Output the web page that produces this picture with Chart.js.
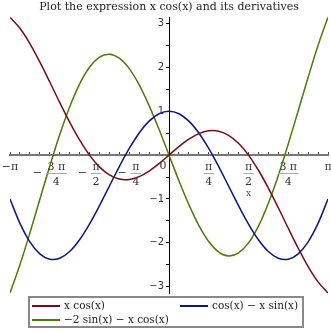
<!DOCTYPE html>
<html>
<head>
<meta charset="utf-8">
<script src="https://cdn.jsdelivr.net/npm/chart.js@4"></script>
<style>
  html, body { margin: 0; padding: 0; background: #fff; }
  #wrap { width: 331px; height: 331px; }
</style>
</head>
<body>
<div id="wrap"><canvas id="chart"></canvas></div>
<script>
// x samples at k*pi/16, k = -16..16
const xValues = [-3.1416, -2.945, -2.749, -2.553, -2.356, -2.160, -1.963, -1.767, -1.571, -1.374, -1.178, -0.982, -0.785, -0.589, -0.393, -0.196, 0,
  0.196, 0.393, 0.589, 0.785, 0.982, 1.178, 1.374, 1.571, 1.767, 1.963, 2.160, 2.356, 2.553, 2.749, 2.945, 3.1416];

const xCos = [3.142, 2.889, 2.540, 2.122, 1.666, 1.200, 0.751, 0.345, 0, -0.268, -0.451, -0.545, -0.555, -0.490, -0.363, -0.193, 0,
  0.193, 0.363, 0.490, 0.555, 0.545, 0.451, 0.268, 0, -0.345, -0.751, -1.200, -1.666, -2.122, -2.540, -2.889, -3.142];

const firstDeriv = [-1, -1.555, -1.976, -2.250, -2.373, -2.351, -2.197, -1.928, -1.571, -1.153, -0.706, -0.261, 0.152, 0.504, 0.774, 0.942, 1,
  0.942, 0.774, 0.504, 0.152, -0.261, -0.706, -1.153, -1.571, -1.928, -2.197, -2.351, -2.373, -2.250, -1.976, -1.555, -1];

const secondDeriv = [-3.142, -2.498, -1.774, -1.011, -0.252, 0.463, 1.096, 1.617, 2, 2.230, 2.299, 2.208, 1.970, 1.601, 1.128, 0.583, 0,
  -0.583, -1.128, -1.601, -1.970, -2.208, -2.299, -2.230, -2, -1.617, -1.096, -0.463, 0.252, 1.011, 1.774, 2.498, 3.142];

const seriesNames = ['x cos(x)', 'cos(x) \u2212 x sin(x)', '\u22122 sin(x) \u2212 x cos(x)'];
const seriesColors = ['#7a0a16', '#0a1680', '#4e7a08'];

// axis ticks and labels
const xTickValues = xValues; // minor ticks every pi/16
const xLabelValues = [-3.1416, -2.356, -1.571, -0.785, 0, 0.785, 1.571, 2.356, 3.1416];
const xLabels = ['\u2212\u03c0', '\u22123 \u03c0/4', '\u2212\u03c0/2', '\u2212\u03c0/4', '0', '\u03c0/4', '\u03c0/2', '3 \u03c0/4', '\u03c0'];
const yTickValues = [-3, -2.5, -2, -1.5, -1, -0.5, 0, 0.5, 1, 1.5, 2, 2.5, 3];
const yLabelValues = [-3, -2, -1, 1, 2, 3];
const yLabels = ['\u22123', '\u22122', '\u22121', '1', '2', '3'];

const serif = '"DejaVu Serif", "Liberation Serif", serif';

const axisLabels = {
  id: 'axisLabels',
  afterDraw(chart) {
    const ctx = chart.ctx;
    const xs = chart.scales.x;
    const ys = chart.scales.y;
    const x0 = xs.getPixelForValue(0);
    const y0 = ys.getPixelForValue(0);
    ctx.save();

    ctx.font = '10px "DejaVu Sans"';
    ctx.fillStyle = '#333';
    ctx.textAlign = 'right';
    ctx.textBaseline = 'middle';
    for (let i = 0; i < yLabelValues.length; i++) {
      ctx.fillText(yLabels[i], x0 - 5, ys.getPixelForValue(yLabelValues[i]));
    }

    ctx.font = '11px ' + serif;
    ctx.textAlign = 'center';
    for (let i = 0; i < xLabelValues.length; i++) {
      const px = xs.getPixelForValue(xLabelValues[i]);
      let s = xLabels[i];
      if (s.includes('/')) {
        let neg = false;
        if (s[0] === '\u2212') { neg = true; s = s.slice(1); }
        const parts = s.split('/');
        const w = Math.max(ctx.measureText(parts[0]).width, ctx.measureText(parts[1]).width) + 3;
        const mw = neg ? ctx.measureText('\u2212').width + 4 : 0;
        const left = px - (mw + w) / 2;
        if (neg) {
          ctx.textAlign = 'left';
          ctx.fillText('\u2212', left, y0 + 18);
          ctx.textAlign = 'center';
        }
        const cx = left + mw + w / 2;
        ctx.fillText(parts[0], cx, y0 + 12);
        ctx.fillText(parts[1], cx, y0 + 27);
        ctx.strokeStyle = '#aaa';
        ctx.lineWidth = 1;
        ctx.beginPath();
        ctx.moveTo(cx - w / 2, Math.round(y0 + 18) + 0.5);
        ctx.lineTo(cx + w / 2, Math.round(y0 + 18) + 0.5);
        ctx.stroke();
      } else if (s === '0') {
        ctx.fillText(s, px - 6, y0 + 11);
      } else {
        ctx.fillText(s, px, y0 + 12);
      }
    }

    // axis title
    ctx.font = '9px ' + serif;
    ctx.fillStyle = '#555';
    ctx.fillText('x', xs.getPixelForValue(1.571), y0 + 39);
    ctx.restore();
  }
};

const legendBox = {
  id: 'legendBox',
  afterDraw(chart) {
    const ctx = chart.ctx;
    ctx.save();
    ctx.strokeStyle = '#888';
    ctx.lineWidth = 2;
    ctx.strokeRect(29, 297, 274, 30);
    const spots = [[32, 306], [180, 306], [32, 320]];
    ctx.font = '10.5px ' + serif;
    ctx.textAlign = 'left';
    ctx.textBaseline = 'middle';
    for (let i = 0; i < seriesNames.length; i++) {
      const [lx, ly] = spots[i];
      ctx.strokeStyle = seriesColors[i];
      ctx.lineWidth = 2;
      ctx.beginPath();
      ctx.moveTo(lx, ly);
      ctx.lineTo(lx + 28, ly);
      ctx.stroke();
      ctx.fillStyle = '#222';
      ctx.fillText(seriesNames[i], lx + 32, ly);
    }
    ctx.restore();
  }
};

function makeSeries(ys) {
  return xValues.map((x, i) => ({ x: x, y: ys[i] }));
}

const allSeries = [xCos, firstDeriv, secondDeriv];

new Chart(document.getElementById('chart'), {
  type: 'line',
  data: {
    datasets: allSeries.map((ys, i) => ({
      label: seriesNames[i],
      data: makeSeries(ys),
      borderColor: seriesColors[i],
      borderWidth: 1.5,
      pointRadius: 0,
      tension: 0.35,
      fill: false
    }))
  },
  options: {
    responsive: true,
    maintainAspectRatio: false,
    animation: false,
    layout: {
      padding: { left: 10, right: 3, top: 0, bottom: 38 }
    },
    plugins: {
      legend: { display: false },
      tooltip: { enabled: false },
      title: {
        display: true,
        text: 'Plot the expression x cos(x) and its derivatives',
        color: '#222',
        font: { family: serif, size: 11, weight: 'normal' },
        padding: { top: 1, bottom: 3 }
      }
    },
    scales: {
      x: {
        type: 'linear',
        min: xValues[0],
        max: xValues[xValues.length - 1],
        position: { y: 0 },
        afterBuildTicks: (axis) => { axis.ticks = xTickValues.map(v => ({ value: v })); },
        afterFit: (axis) => { axis.height = 0; },
        ticks: { display: false },
        grid: { display: true, drawOnChartArea: false, drawTicks: true, tickLength: -4, tickColor: '#444', tickWidth: 1 },
        border: { display: true, color: '#777', width: 2 }
      },
      y: {
        type: 'linear',
        min: -3.1416,
        max: 3.1416,
        position: { x: 0 },
        afterBuildTicks: (axis) => { axis.ticks = yTickValues.map(v => ({ value: v })); },
        afterFit: (axis) => { axis.width = 0; },
        ticks: { display: false },
        grid: { display: true, drawOnChartArea: false, drawTicks: true, tickLength: 3, tickColor: '#000', tickWidth: 1 },
        border: { display: true, color: '#000', width: 1 }
      }
    }
  },
  plugins: [axisLabels, legendBox]
});
</script>
</body>
</html>
